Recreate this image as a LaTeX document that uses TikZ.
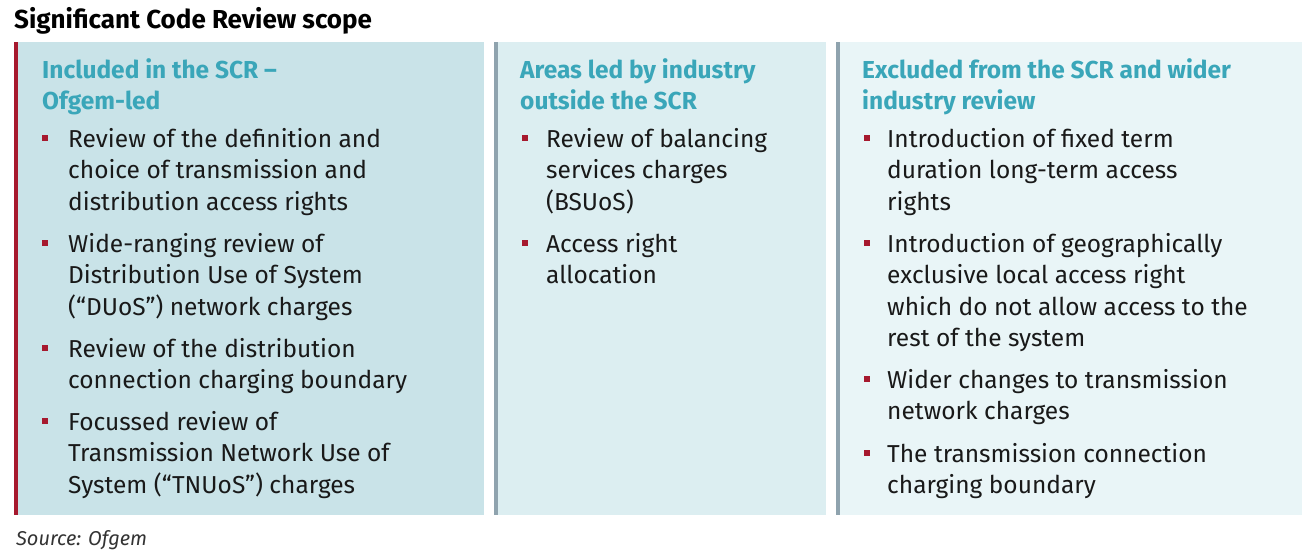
\documentclass[tikz,border=0pt]{standalone}
\usepackage{fontspec}
\setmainfont{Fira Sans}
\definecolor{pA}{HTML}{C9E3E8}
\definecolor{pB}{HTML}{DCEEF1}
\definecolor{pC}{HTML}{E9F5F7}
\definecolor{head}{HTML}{3AA6B9}
\definecolor{bul}{HTML}{A6192E}
\definecolor{barg}{HTML}{8FA3AE}
\begin{document}
\begin{tikzpicture}[x=1pt,y=-1pt,
  txt/.style={anchor=north west,align=left,inner sep=0pt,font=\fontsize{24.5}{31.5}\selectfont,text=black!90},
  hd/.style={anchor=north west,align=left,inner sep=0pt,font=\fontsize{24.5}{31.5}\selectfont\bfseries,text=head},
  sq/.style={fill=bul,minimum size=6pt,inner sep=0pt}]
\useasboundingbox (0,0) rectangle (1316,556);
\node[anchor=base west,inner sep=0pt,font=\fontsize{26}{30}\selectfont\bfseries] (title) at (14,29) {Significant Code Review scope};
\fill[pA] (14,42) rectangle (484,515);
\fill[pB] (494,42) rectangle (826,515);
\fill[pC] (836,42) rectangle (1302,515);
\fill[bul] (14,42) rectangle (18,515);
\fill[barg] (494,42) rectangle (498,515);
\fill[barg] (836,42) rectangle (840,515);
\node[hd] (h1) at (42,58) {Included in the SCR –\\Ofgem-led};
\node[hd] (h2) at (520,58) {Areas led by industry\\outside the SCR};
\node[hd] (h3) at (862,58) {Excluded from the SCR and wider\\industry review};
\foreach \y/\t [count=\i] in {138/{Review of the definition and\\choice of transmission and\\distribution access rights},
 243/{Wide-ranging review of\\Distribution Use of System\\(“DUoS”) network charges},
 348/{Review of the distribution\\connection charging boundary},
 421/{Focussed review of\\Transmission Network Use of\\System (“TNUoS”) charges}}{
 \node[sq] (a\i) at (45,\y) {};
 \node[txt] (at\i) at (68,\y-10) {\t};}
\foreach \y/\t [count=\i] in {138/{Review of balancing\\services charges\\(BSUoS)},
 243/{Access right\\allocation}}{
 \node[sq] (b\i) at (525,\y) {};
 \node[txt] (bt\i) at (546,\y-10) {\t};}
\foreach \y/\t [count=\i] in {138/{Introduction of fixed term\\duration long-term access\\rights},
 243/{Introduction of geographically\\exclusive local access right\\which do not allow access to the\\rest of the system},
 379/{Wider changes to transmission\\network charges},
 453/{The transmission connection\\charging boundary}}{
 \node[sq] (c\i) at (867,\y) {};
 \node[txt] (ct\i) at (887,\y-10) {\t};}
\node[anchor=base west,inner sep=0pt,font=\fontsize{20}{22}\selectfont\itshape,text=black!80] (src) at (16,545) {Source: Ofgem};
\end{tikzpicture}
\end{document}
